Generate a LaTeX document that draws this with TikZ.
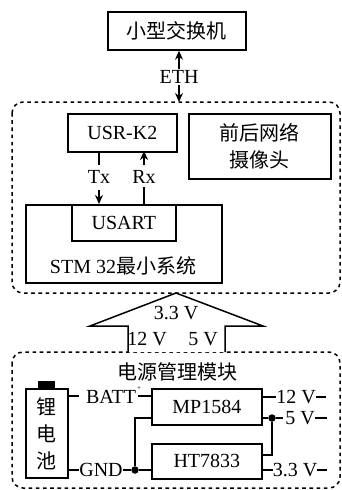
\documentclass[tikz,border=0pt]{standalone}
\usepackage{fontspec}
\setmainfont{Liberation Serif}
\newfontfamily\cjk{Noto Sans CJK SC}
\usetikzlibrary{arrows.meta,calc}
\tikzset{
  x=1pt,y=-1pt,
  box/.style={draw,line width=1.7pt,minimum width=0pt,inner sep=0pt},
  txt/.style={inner sep=0pt,font=\fontsize{20}{20}\selectfont},
  cjktxt/.style={inner sep=0pt,font=\cjk\fontsize{20}{20}\selectfont},
  wire/.style={line width=1.4pt},
  arr/.style={wire,-{Stealth[length=9pt,width=8pt]}},
  dashbox/.style={draw,line width=1.5pt,dash pattern=on 3.6pt off 3.6pt,rounded corners=11pt},
  dotn/.style={circle,fill=black,inner sep=0pt,minimum size=7.5pt},
}
\begin{document}
\begin{tikzpicture}
\useasboundingbox (0,0) rectangle (341,490);
\path[fill=white] (0,0) rectangle (341,490);
% dashed frames
\draw[dashbox] (12,102) rectangle (340,293);
\draw[dashbox] (12,352) rectangle (340,488);
\coordinate (frametop) at (179,102);
% switch
\node[box,anchor=north west,minimum width=138pt,minimum height=38pt] (sw) at (107,11) {};
\node[cjktxt] (swt) at (sw.center) {小型交换机};
\node[txt] (eth) at (179,77) {ETH};
\draw[arr] (eth.north) ++(0,-1) -- (sw.south -| eth.north);
\draw[arr] (eth.south) ++(0,1) -- (frametop);
% USR
\node[box,anchor=north west,minimum width=109pt,minimum height=38pt] (usr) at (67,113) {};
\node[txt] (usrt) at (usr.center) {USR-K2};
\node[box,anchor=north west,minimum width=142pt,minimum height=65pt] (cam) at (188,113) {};
\node[cjktxt] (cam1) at (259,133) {前后网络};
\node[cjktxt] (cam2) at (259,160) {摄像头};
% STM
\node[box,anchor=north west,minimum width=196pt,minimum height=78pt] (stm) at (25,204) {};
\node[box,anchor=north west,minimum width=104pt,minimum height=36pt] (usart) at (71,204) {};
\node[txt] (usartt) at (usart.center) {USART};
\node[txt] (stmt) at (123,266) {STM 32{\cjk 最小系统}};
\node[txt] (tx) at (99,177) {Tx};
\node[txt] (rx) at (144,177) {Rx};
\coordinate (txa) at (99,151); \coordinate (txb) at (99,165);
\coordinate (txc) at (99,190); \coordinate (txd) at (99,204);
\coordinate (rxa) at (144,151); \coordinate (rxb) at (144,165);
\coordinate (rxc) at (144,187); \coordinate (rxd) at (144,204);
\draw[wire] (txa) -- (txb);
\draw[arr] (txc) -- (txd);
\draw[arr] (rxb) -- (rxa);
\draw[wire] (rxc) -- (rxd);
% big arrow
\draw[line width=1.5pt,fill=white,line join=miter] (128,352) -- (128,326) -- (90,326) -- (176,293) -- (263,326) -- (225,326) -- (225,352);
\node[txt] (a33) at (176,313) {3.3 V};
\node[txt] (a12) at (147,339) {12 V};
\node[txt] (a5) at (203,339) {5 V};
% power
\node[cjktxt] (title) at (177,372) {电源管理模块};
\node[box,anchor=north west,minimum width=42pt,minimum height=89pt] (bat) at (25,388) {};
\fill (38,381) rectangle (55,388);
\node[cjktxt] (b1) at (46,407) {锂};
\node[cjktxt] (b2) at (46,434) {电};
\node[cjktxt] (b3) at (46,461) {池};
\node[box,anchor=north west,minimum width=110pt,minimum height=36pt] (mp) at (151,388) {};
\node[txt] (mpt) at (mp.center) {MP1584};
\node[box,anchor=north west,minimum width=110pt,minimum height=35pt] (ht) at (151,443) {};
\node[txt] (htt) at (ht.center) {HT7833};
\node[txt] (batt) at (111,397) {BATT};
\node[txt,font=\fontsize{7}{7}\selectfont] (plus) at (139,389) {+};
\node[txt] (gnd) at (101,470) {GND};
\node[txt] (v12) at (296,397) {12 V};
\node[txt] (v5) at (300,418) {5 V};
\node[txt] (v33) at (295,470) {3.3 V};
\node[dotn] (d1) at (135,470) {};
\node[dotn] (d2) at (272,418) {};
\draw[wire] (67,396) -- (79,396);
\draw[wire] (138,396) -- (151,396);
\draw[wire] (67,470) -- (gnd.west);
\draw[wire] (gnd.east) -- (d1) -- (151,470);
\draw[wire] (d1) -- (135,418) -- (151,418);
\draw[wire] (261,397) -- (v12.west);
\draw[wire] (v12.east) -- (326,397);
\draw[wire] (261,418) -- (d2) -- (283,418);
\draw[wire] (v5.east) -- (327,418);
\draw[wire] (261,455) -- (272,455) -- (d2);
\draw[wire] (261,470) -- (v33.west);
\draw[wire] (v33.east) -- (327,470);
\end{tikzpicture}
\end{document}
